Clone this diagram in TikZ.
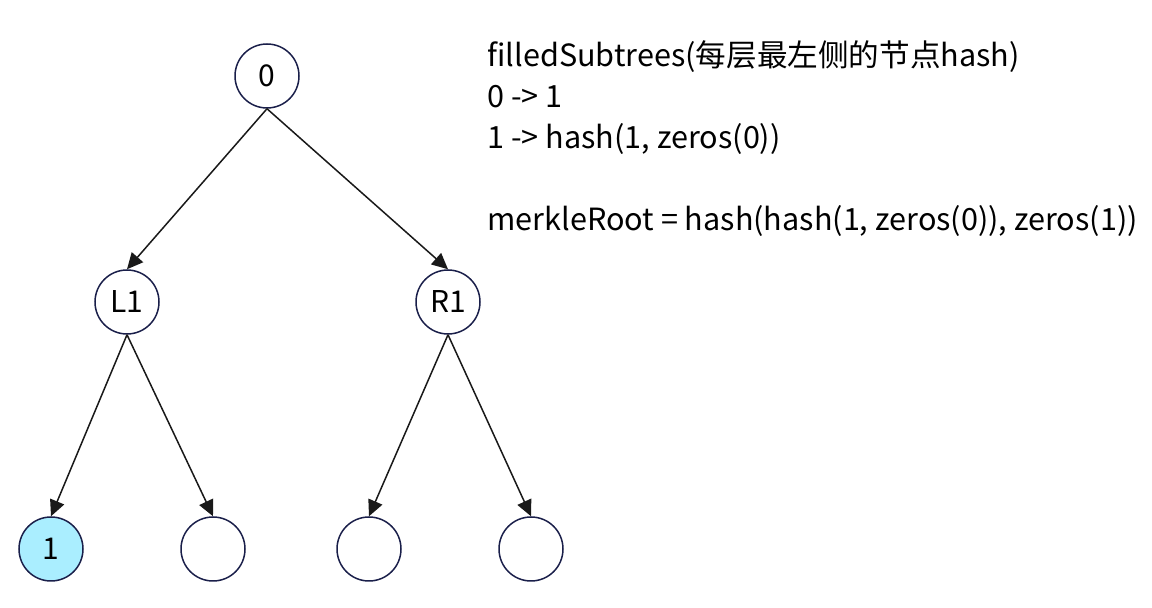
\documentclass[tikz,border=0pt]{standalone}
\usepackage{fontspec}
\setmainfont{Noto Sans CJK SC}
\usetikzlibrary{arrows.meta}
\definecolor{ringcol}{HTML}{1A1F4A}
\definecolor{leafcol}{HTML}{AAEEFF}
\begin{document}
\begin{tikzpicture}[x=0.5pt,y=-0.5pt,
  tnode/.style={circle,draw=ringcol,line width=0.75pt,minimum size=32pt,inner sep=0pt,font=\fontsize{15}{17}\selectfont},
  edge/.style={-{Triangle[length=8pt,width=7.5pt]},line width=0.75pt,draw=black!90},
  note/.style={anchor=base west,inner sep=0pt,font=\fontsize{15.3}{17}\selectfont}]
\useasboundingbox (0,0) rectangle (1152,608);

\node[tnode] (root) at (267,76) {0};
\node[tnode] (l1) at (127,302) {L1};
\node[tnode] (r1) at (448,302) {R1};

\node[tnode,fill=leafcol] (a) at (51,549) {1};
\node[tnode] (b) at (213,549) {};
\node[tnode] (c) at (369,549) {};
\node[tnode] (d) at (531,549) {};

\draw[edge] (root.south) -- (l1.north);
\draw[edge] (root.south) -- (r1.north);
\draw[edge] (l1.south) -- (a.north);
\draw[edge] (l1.south) -- (b.north);
\draw[edge] (r1.south) -- (c.north);
\draw[edge] (r1.south) -- (d.north);

\node[note] (t1) at (487,67) {filledSubtrees(每层最左侧的节点hash)};
\node[note] (t2) at (487,108) {0 -> 1};
\node[note] (t3) at (487,149) {1 -> hash(1, zeros(0))};
\node[note] (t4) at (487,231) {merkleRoot = hash(hash(1, zeros(0)), zeros(1))};
\end{tikzpicture}
\end{document}
